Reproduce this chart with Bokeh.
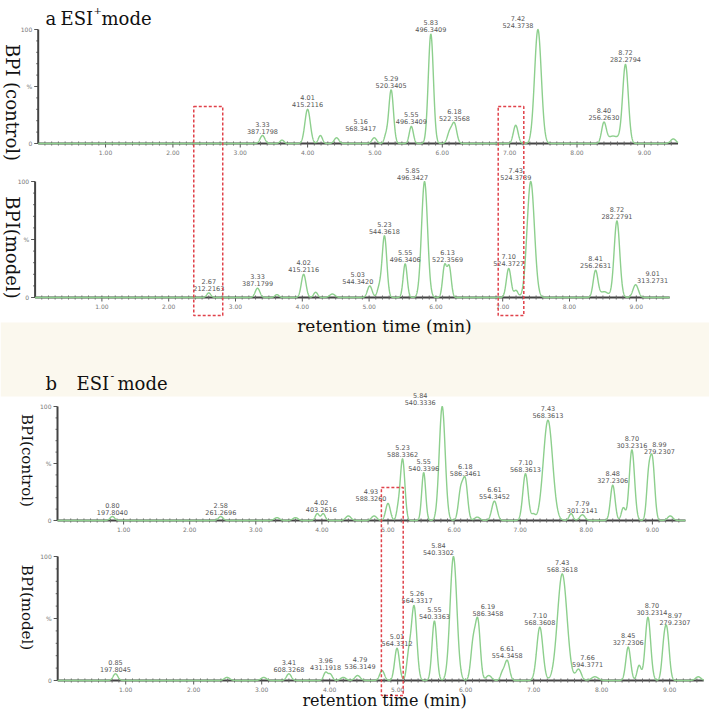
import numpy as np
from bokeh.plotting import figure
from bokeh.models import Range1d
from bokeh.core.properties import value
from bokeh.embed import file_html
from bokeh.resources import INLINE

# ------------------------------------------------------------------ data
time_span = [0.0, 9.5]
x_ticks = [1, 2, 3, 4, 5, 6, 7, 8, 9]
x_tick_labels = ["1.00", "2.00", "3.00", "4.00", "5.00", "6.00", "7.00", "8.00", "9.00"]
y_ticks = [0, 50, 100]
y_tick_labels = ["0", "%", "100"]

# ESI+ control : peak retention time (min), relative intensity (%), peak sigma (min)
a_ctrl_rt = [3.33, 3.62, 4.00, 4.19, 4.43, 4.99, 5.16, 5.24, 5.54, 5.83, 6.11, 6.18, 7.09, 7.42, 8.40, 8.52, 8.62, 8.72, 9.43]
a_ctrl_h = [7, 3, 30, 7, 5, 5, 6, 47, 15, 96, 10, 17, 16, 100, 18, 6, 3, 69, 4]
a_ctrl_w = [.035, .03, .04, .03, .035, .035, .025, .035, .03, .038, .035, .035, .035, .05, .035, .06, .05, .042, .04]
a_ctrl_lab_idx = [0, 2, 6, 7, 8, 9, 11, 13, 14, 17]
a_ctrl_lab_rt = ["3.33", "4.01", "5.16", "5.29", "5.55", "5.83", "6.18", "7.42", "8.40", "8.72"]
a_ctrl_lab_mz = ["387.1798", "415.2116", "568.3417", "520.3405", "496.3409", "496.3409", "522.3568", "524.3738", "256.2630", "282.2794"]

# ESI+ model
a_mod_rt = [2.60, 3.33, 3.62, 4.02, 4.20, 4.45, 5.01, 5.15, 5.23, 5.54, 5.83, 6.13, 6.20, 7.09, 7.20, 7.42, 8.39, 8.52, 8.71, 8.99]
a_mod_h = [4, 8, 2.5, 20, 4.5, 3, 10, 8, 53, 29, 100, 27, 26, 25, 6, 100, 23, 5, 66, 11]
a_mod_w = [.03, .035, .03, .035, .03, .04, .035, .03, .035, .03, .045, .03, .03, .035, .03, .055, .035, .06, .042, .04]
a_mod_lab_idx = [0, 1, 3, 6, 8, 9, 10, 11, 13, 15, 16, 18, 19]
a_mod_lab_rt = ["2.67", "3.33", "4.02", "5.03", "5.23", "5.55", "5.85", "6.13", "7.10", "7.43", "8.41", "8.72", "9.01"]
a_mod_lab_mz = ["212.2163", "387.1799", "415.2116", "544.3420", "544.3618", "496.3406", "496.3427", "522.3569", "524.3727", "524.3739", "256.2631", "282.2791", "313.2731"]

# ESI- control
b_ctrl_rt = [0.83, 2.47, 3.32, 3.60, 3.93, 4.02, 4.40, 4.79, 5.00, 5.15, 5.22, 5.54, 5.82, 6.10, 6.17, 6.35, 6.61, 7.08, 7.20, 7.42, 7.77, 7.94, 8.40, 8.56, 8.69, 8.94, 9.00, 9.27]
b_ctrl_h = [3.5, 3.5, 2.5, 2.5, 6, 6, 4, 4, 15, 8, 54, 42, 100, 26, 34, 3, 17, 41, 5, 88, 6, 5, 31, 11, 62, 34, 52, 4]
b_ctrl_w = [.035, .035, .04, .04, .03, .03, .04, .04, .035, .025, .035, .03, .045, .035, .035, .04, .04, .04, .03, .07, .03, .04, .035, .03, .04, .03, .035, .04]
b_ctrl_lab_idx = [0, 1, 4, 8, 10, 11, 12, 14, 16, 17, 19, 21, 22, 24, 26]
b_ctrl_lab_rt = ["0.80", "2.58", "4.02", "4.93", "5.23", "5.55", "5.84", "6.18", "6.61", "7.10", "7.43", "7.79", "8.48", "8.70", "8.99"]
b_ctrl_lab_mz = ["197.8040", "261.2696", "403.2616", "588.3260", "588.3362", "540.3396", "540.3336", "586.3461", "554.3452", "568.3613", "568.3613", "301.2141", "327.2306", "303.2316", "279.2307"]

# ESI- model
b_mod_rt = [0.85, 2.49, 3.03, 3.40, 3.94, 4.01, 4.20, 4.41, 4.77, 4.99, 5.16, 5.24, 5.54, 5.82, 6.11, 6.18, 6.34, 6.54, 6.61, 7.09, 7.42, 7.66, 7.90, 8.39, 8.55, 8.68, 8.91, 8.96, 9.42]
b_mod_h = [5.4, 2.5, 2.5, 5.4, 6.5, 5, 2.5, 4, 8, 26, 18, 60, 48, 100, 30, 46, 4, 6, 16, 43, 86, 9, 3, 27, 12, 51, 20, 38, 3]
b_mod_w = [.035, .04, .04, .035, .03, .03, .04, .04, .035, .035, .03, .04, .035, .05, .035, .035, .04, .03, .035, .045, .07, .04, .05, .035, .03, .04, .03, .035, .04]
b_mod_lab_idx = [0, 3, 4, 8, 9, 11, 12, 13, 15, 18, 19, 20, 21, 23, 25, 27]
b_mod_lab_rt = ["0.85", "3.41", "3.96", "4.79", "5.01", "5.26", "5.55", "5.84", "6.19", "6.61", "7.10", "7.43", "7.66", "8.45", "8.70", "8.97"]
b_mod_lab_mz = ["197.8045", "608.3268", "431.1918", "536.3149", "564.3312", "564.3317", "540.3363", "540.3302", "586.3458", "554.3458", "568.3608", "568.3618", "594.3771", "327.2306", "303.2314", "279.2307"]

# highlighted retention windows (min)
a_box_windows = [(2.31, 2.74), (6.83, 7.21)]
b_box_windows = [(4.90, 5.23)]

# ------------------------------------------------------------------ layout
W, H = 709, 710
M = 0
PANEL = {
    "ac": dict(x0=37.7, ppm=67.35, y0=143.0, ppv=1.14),
    "am": dict(x0=34.6, ppm=66.8, y0=297.0, ppv=1.16),
    "bc": dict(x0=57.0, ppm=66.1, y0=520.0, ppv=1.14),
    "bm": dict(x0=57.2, ppm=68.0, y0=680.0, ppv=1.24),
}
LABEL_DX = {
    "ac": [0, 0, -25, 0, 0, 0, 0, -20, 0, 0],
    "am": [0, 0, 0, -12, 0, 0, -12, 3, 0, -15, 0, 0, 17],
    "bc": [0, 0, 4, -17, 0, 0, -22, 0, 0, 0, 0, 0, 0, 0, 7],
    "bm": [0, 0, 0, -22, 0, 3, 0, -15, 10, 0, 0, 0, 9, 0, 4, 8],
}
GREEN = "#8dcf8d"
AXIS = "#444444"
SMALL = value("DejaVu Sans")
SERIF = value("DejaVu Serif")

p = figure(width=W, height=H, x_range=Range1d(0, W), y_range=Range1d(0, H),
           output_backend="svg", toolbar_location=None, min_border=0,
           x_axis_type=None, y_axis_type=None,
           background_fill_color="white", border_fill_color="white")
p.outline_line_color = None
p.grid.visible = False

extra_x, extra_y = {}, {}
for k, c in PANEL.items():
    extra_x[k] = Range1d((M - c["x0"]) / c["ppm"], (M + W - c["x0"]) / c["ppm"])
    extra_y[k] = Range1d((c["y0"] - (M + H)) / c["ppv"], (c["y0"] - M) / c["ppv"])
p.extra_x_ranges = extra_x
p.extra_y_ranges = extra_y


def PX(rx):
    return rx - M


def PY(ry):
    return H - (ry - M)


# beige band between the two figure halves
p.quad(left=[0], right=[W], top=[PY(322)], bottom=[PY(396)], fill_color="#fbf8ee", line_color=None)


def gauss_sum(t, rt, h, w):
    y = np.zeros_like(t)
    for r, a, s in zip(rt, h, w):
        y += a * np.exp(-0.5 * ((t - r) / s) ** 2)
    return y


def draw_panel(key, rt, h, w, lab_idx, lab_rt, lab_mz):
    c = PANEL[key]
    kw = dict(x_range_name=key, y_range_name=key)
    dx = 1.0 / c["ppm"]
    dy = 1.0 / c["ppv"]
    t0, t1 = time_span
    # x axis
    p.segment(x0=[t0], y0=[0], x1=[t1], y1=[0], line_color=AXIS, line_width=2, **kw)
    minor = [round(0.1 * i, 1) for i in range(1, int(t1 * 10)) if i % 10]
    p.segment(x0=minor, y0=[-2 * dy] * len(minor), x1=minor, y1=[2 * dy] * len(minor),
              line_color="#666", line_width=1, **kw)
    p.segment(x0=x_ticks, y0=[-4 * dy] * len(x_ticks), x1=x_ticks, y1=[2 * dy] * len(x_ticks),
              line_color="#555", line_width=1, **kw)
    p.text(x=x_ticks, y=[-6 * dy] * len(x_ticks), text=x_tick_labels, text_align="center",
           text_baseline="top", text_font=SMALL, text_font_size="6px", text_color="#777", **kw)
    # y axis
    ym = list(range(10, 100, 10))
    p.segment(x0=[-2 * dx] * len(ym), y0=ym, x1=[0] * len(ym), y1=ym, line_color="#666", line_width=1, **kw)
    p.segment(x0=[-4 * dx] * 3, y0=y_ticks, x1=[0] * 3, y1=y_ticks, line_color="#555", line_width=1, **kw)
    p.segment(x0=[t0], y0=[0], x1=[t0], y1=[100], line_color=AXIS, line_width=2, **kw)
    p.text(x=[-6 * dx] * 3, y=y_ticks, text=y_tick_labels, text_align="right", text_baseline="middle",
           text_font=SMALL, text_font_size="6px", text_color="#777", **kw)
    # trace
    t = np.linspace(t0, t1, 4000)
    y = gauss_sum(t, rt, h, w)
    p.line(t, y, line_color=GREEN, line_width=1.4, **kw)
    # peak annotations
    lx = [rt[i] + d * dx for i, d in zip(lab_idx, LABEL_DX[key])]
    top = gauss_sum(np.array([rt[i] for i in lab_idx]), rt, h, w)
    p.text(x=lx, y=list(top + 2 * dy), text=lab_mz, text_align="center", text_baseline="bottom",
           text_font=SMALL, text_font_size="6.5px", text_color="#555", **kw)
    p.text(x=lx, y=list(top + 9 * dy), text=lab_rt, text_align="center", text_baseline="bottom",
           text_font=SMALL, text_font_size="6.5px", text_color="#555", **kw)


draw_panel("ac", a_ctrl_rt, a_ctrl_h, a_ctrl_w, a_ctrl_lab_idx, a_ctrl_lab_rt, a_ctrl_lab_mz)
draw_panel("am", a_mod_rt, a_mod_h, a_mod_w, a_mod_lab_idx, a_mod_lab_rt, a_mod_lab_mz)
draw_panel("bc", b_ctrl_rt, b_ctrl_h, b_ctrl_w, b_ctrl_lab_idx, b_ctrl_lab_rt, b_ctrl_lab_mz)
draw_panel("bm", b_mod_rt, b_mod_h, b_mod_w, b_mod_lab_idx, b_mod_lab_rt, b_mod_lab_mz)

# red dashed boxes (span both sub-panels)
RED = "#e0424a"
ca = PANEL["ac"]
p.quad(left=[b[0] for b in a_box_windows], right=[b[1] for b in a_box_windows],
       top=[(ca["y0"] - 106) / ca["ppv"]] * len(a_box_windows),
       bottom=[(ca["y0"] - 315) / ca["ppv"]] * len(a_box_windows),
       fill_alpha=0, line_color=RED, line_width=1.5, line_dash="3 2",
       x_range_name="ac", y_range_name="ac")
cb = PANEL["bc"]
p.quad(left=[b[0] for b in b_box_windows], right=[b[1] for b in b_box_windows],
       top=[(cb["y0"] - 487) / cb["ppv"]] * len(b_box_windows),
       bottom=[(cb["y0"] - 695) / cb["ppv"]] * len(b_box_windows),
       fill_alpha=0, line_color=RED, line_width=1.5, line_dash="3 2",
       x_range_name="bc", y_range_name="bc")

# titles and axis titles
TXT = "#111111"


def txt(rx, ry, s, size, align="left", baseline="alphabetic", angle=0.0):
    p.text(x=[PX(rx)], y=[PY(ry)], text=[s], angle=angle, text_align=align, text_baseline=baseline,
           text_font=SERIF, text_font_size=size, text_color=TXT)


txt(45, 18, "a", "18px")
txt(60, 18, "ESI", "18px")
txt(93, 10, "+", "10px")
txt(101, 18, "mode", "18px")
txt(12, 102, "BPI (control)", "18px", "center", "middle", -np.pi / 2)
txt(12, 247, "BPI(model)", "18px", "center", "middle", -np.pi / 2)
txt(384, 325, "retention time (min)", "17px", "center")

txt(45, 383, "b", "18px")
txt(76, 383, "ESI", "18px")
txt(110, 375, "-", "11px")
txt(117, 383, "mode", "18px")
txt(26, 460, "BPI(control)", "15px", "center", "middle", -np.pi / 2)
txt(26, 607, "BPI(model)", "15px", "center", "middle", -np.pi / 2)
txt(384, 700, "retention time (min)", "16px", "center")

open("out.html", "w").write(file_html(p, INLINE))
